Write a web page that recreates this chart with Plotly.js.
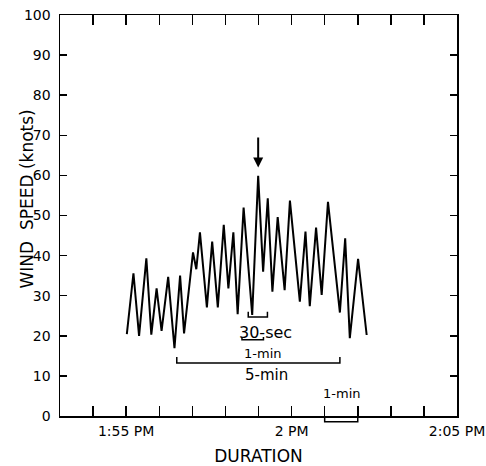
<!DOCTYPE html>
<html>
<head>
<meta charset="utf-8">
<script src="https://cdn.plot.ly/plotly-3.0.1.min.js"></script>
<style>html,body{margin:0;padding:0;background:#fff;}#chart{width:486px;height:466px;}</style>
</head>
<body>
<div id="chart"></div>
<script>
// minutes after 1:55 PM
const minutes = [0.02, 0.22, 0.39, 0.61, 0.76, 0.92, 1.07, 1.27, 1.46, 1.63, 1.75, 2.02, 2.12, 2.23, 2.44, 2.60, 2.77, 2.95, 3.09, 3.24, 3.37, 3.55, 3.81, 3.99, 4.14, 4.28, 4.42, 4.58, 4.79, 4.95, 5.25, 5.42, 5.55, 5.74, 5.91, 6.10, 6.46, 6.62, 6.76, 7.01, 7.27];
const windSpeed = [20.4, 35.6, 20.0, 39.3, 20.3, 31.8, 21.2, 34.7, 16.9, 35.0, 20.6, 40.8, 36.6, 45.8, 27.1, 43.5, 27.1, 47.7, 31.8, 45.8, 25.4, 52.0, 25.2, 59.9, 36.0, 54.3, 31.0, 49.6, 31.4, 53.7, 28.5, 46.0, 27.4, 47.0, 30.2, 53.4, 25.8, 44.3, 19.4, 39.2, 20.2];
const xTickVals = [-1, 0, 1, 2, 3, 4, 5, 6, 7, 8, 9, 10];
const xTickText = ['', '1:55 PM', '', '', '', '', '2 PM', '', '', '', '', '2:05 PM'];
const yTickVals = [0, 10, 20, 30, 40, 50, 60, 70, 80, 90, 100];

const font = 'DejaVu Sans, Liberation Sans, sans-serif';

const trace = {
  x: minutes, y: windSpeed, type: 'scatter', mode: 'lines',
  line: {color: '#000', width: 2}, hoverinfo: 'skip'
};

function bracketUp(x0, x1, y, h) {
  return {type: 'path', xref: 'x', yref: 'y',
    path: `M${x0},${y + h} L${x0},${y} L${x1},${y} L${x1},${y + h}`,
    line: {color: '#000', width: 1.5}};
}

const shapes = [
  bracketUp(3.69, 4.27, 24.7, 1.3),
  bracketUp(3.50, 4.15, 19.0, 0.7),
  bracketUp(1.53, 6.46, 13.2, 1.5),
  {type: 'path', xref: 'x', yref: 'paper',
    path: 'M6,0 L6,-0.0142 L7,-0.0142 L7,0',
    line: {color: '#000', width: 1.5}}
];

const annotations = [
  {x: 3.99, y: 62, ax: 3.99, ay: 69.8, xref: 'x', yref: 'y', axref: 'x', ayref: 'y',
   text: '', showarrow: true, arrowhead: 2, arrowsize: 1, arrowwidth: 2, arrowcolor: '#000'},
  {x: 4.22, y: 20.8, text: '30-sec', showarrow: false, font: {family: font, size: 16, color: '#000'}},
  {x: 4.11, y: 15.5, text: '1-min', showarrow: false, font: {family: font, size: 13, color: '#000'}},
  {x: 4.25, y: 10.2, text: '5-min', showarrow: false, font: {family: font, size: 15, color: '#000'}},
  {x: 6.52, y: 5.5, text: '1-min', showarrow: false, font: {family: font, size: 13, color: '#000'}},
  {x: -0.083, y: 0.54, xref: 'paper', yref: 'paper', xanchor: 'center', yanchor: 'middle',
   textangle: -90, showarrow: false,
   text: 'WIND  SPEED (knots)', font: {family: font, size: 17, color: '#000'}}
];

const layout = {
  width: 486, height: 466,
  margin: {l: 60, r: 29, t: 15, b: 50},
  paper_bgcolor: '#fff', plot_bgcolor: '#fff',
  showlegend: false,
  font: {family: font, size: 14, color: '#000'},
  xaxis: {
    range: [-2, 10], tickvals: xTickVals, ticktext: xTickText,
    ticks: 'inside', ticklen: 10, tickwidth: 1.5, tickcolor: '#000',
    showline: true, linecolor: '#000', linewidth: 1.5, mirror: 'ticks',
    showgrid: false, zeroline: false, ticklabelstandoff: 2,
    tickfont: {family: font, size: 14, color: '#000'},
    title: {text: 'DURATION', font: {family: font, size: 17, color: '#000'}, standoff: 14}
  },
  yaxis: {
    range: [0, 100], tickvals: yTickVals,
    ticks: 'inside', ticklen: 7, tickwidth: 1.5, tickcolor: '#000',
    showline: true, linecolor: '#000', linewidth: 1.5, mirror: 'ticks',
    showgrid: false, zeroline: false, ticklabelstandoff: 5,
    tickfont: {family: font, size: 14, color: '#000'}
  },
  shapes: shapes,
  annotations: annotations
};

Plotly.newPlot('chart', [trace], layout, {displayModeBar: false, staticPlot: true});
</script>
</body>
</html>
